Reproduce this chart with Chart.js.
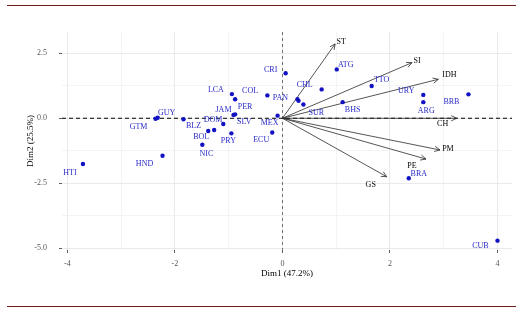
<!DOCTYPE html>
<html>
<head>
<meta charset="utf-8">
<script src="https://cdn.jsdelivr.net/npm/chart.js@4"></script>
<style>
  html, body { margin: 0; padding: 0; background: #fff; }
  #wrap { position: relative; width: 530px; height: 309px; }
  #biplot { position: absolute; left: 0; top: 0; }
  .rule { position: absolute; left: 7px; width: 509px; height: 1px; background: #6e1c1c; }
</style>
</head>
<body>
<div id="wrap">
  <canvas id="biplot" width="530" height="309"></canvas>
  <div class="rule" style="top:5px"></div>
  <div class="rule" style="top:306px"></div>
</div>
<script>
// individuals (countries) - coordinates on Dim1 / Dim2
const countries = ['HTI', 'HND', 'GTM', 'GUY', 'BLZ', 'NIC', 'BOL', 'DOM', 'SLV', 'PRY',
                   'JAM', 'PER', 'LCA', 'COL', 'PAN', 'CRI', 'MEX', 'ECU', 'CHL', 'SUR',
                   '', '', 'ATG', 'BHS', 'TTO', 'URY', 'ARG', 'BRB', 'BRA', 'CUB'];
const dim1 = [-3.71, -2.23, -2.36, -2.32, -1.84, -1.49, -1.38, -1.27, -1.10, -0.95,
              -0.91, -0.88, -0.94, -0.88, -0.28, 0.06, -0.09, -0.19, 0.73, 0.39,
              0.28, 0.30, 1.01, 1.12, 1.66, 2.62, 2.62, 3.46, 2.35, 4.00];
const dim2 = [-1.76, -1.44, -0.02, 0.02, -0.04, -1.02, -0.49, -0.45, -0.22, -0.58,
              0.13, 0.15, 0.93, 0.73, 0.88, 1.73, 0.10, -0.55, 1.11, 0.53,
              0.73, 0.67, 1.88, 0.62, 1.24, 0.90, 0.62, 0.92, -2.31, -4.71];

// variables (arrows)
const variables = ['ST', 'SI', 'IDH', 'CH', 'PM', 'PE', 'GS'];
const varDim1 = [0.98, 2.41, 2.90, 3.24, 2.93, 2.67, 1.94];
const varDim2 = [2.86, 2.14, 1.50, 0.00, -1.22, -1.57, -2.25];

const xTicks = [-4, -2, 0, 2, 4];
const yTicks = [-5, -2.5, 0, 2.5];

// where the repelled labels ended up, px from their point
const countryLabelOffsets = [[-13, 9], [-18, 8], [-17, 8], [9, -5], [10, 7], [4, 9], [-7, 6], [-1, -10], [21, -2], [-3, 8],
                             [-10, -5], [10, -7], [-16, -4], [15, -8], [13, 3], [-15, -3], [-8, 7], [-11, 7], [-17, -5], [13, 8],
                             [0, 0], [0, 0], [9, -5], [10, 8], [10, -6], [-17, -4], [3, 9], [-17, 8], [10, -4], [-17, 5]];
const varLabelOffsets = [[6, -2], [5, -2], [11, -4], [-14, 6], [8, -1], [-14, 7], [-16, 8]];

const serif = '"Liberation Serif", "DejaVu Serif", serif';
const pointBlue = '#1212c4';
const arrowGrey = '#2b2b2b';

const points = dim1.map((v, i) => ({x: v, y: dim2[i]}));

const arrowSets = variables.map((name, i) => ({
    label: name,
    data: [{x: 0, y: 0}, {x: varDim1[i], y: varDim2[i]}],
    showLine: true,
    borderColor: arrowGrey,
    borderWidth: 0.8,
    pointRadius: 0,
    order: 1
}));

const biplotExtras = {
    id: 'biplotExtras',
    beforeDatasetsDraw(chart) {
        const {ctx, chartArea: a, scales: {x, y}} = chart;
        const x0 = x.getPixelForValue(0);
        const y0 = y.getPixelForValue(0);
        ctx.save();
        ctx.strokeStyle = '#000';
        ctx.lineWidth = 1;
        ctx.setLineDash([4, 3]);
        ctx.beginPath();
        ctx.moveTo(a.left, y0);
        ctx.lineTo(a.right, y0);
        ctx.stroke();
        ctx.strokeStyle = '#555';
        ctx.lineWidth = 0.8;
        ctx.setLineDash([3, 3]);
        ctx.beginPath();
        ctx.moveTo(x0, a.top);
        ctx.lineTo(x0, a.bottom);
        ctx.stroke();
        ctx.restore();
    },
    afterDatasetsDraw(chart) {
        const ctx = chart.ctx;
        ctx.save();
        // open arrow heads
        ctx.strokeStyle = arrowGrey;
        ctx.lineWidth = 0.8;
        variables.forEach((name, i) => {
            const meta = chart.getDatasetMeta(i + 1);
            const p0 = meta.data[0], p1 = meta.data[1];
            const ang = Math.atan2(p1.y - p0.y, p1.x - p0.x);
            const len = 6;
            ctx.beginPath();
            ctx.moveTo(p1.x - len * Math.cos(ang - 0.45), p1.y - len * Math.sin(ang - 0.45));
            ctx.lineTo(p1.x, p1.y);
            ctx.lineTo(p1.x - len * Math.cos(ang + 0.45), p1.y - len * Math.sin(ang + 0.45));
            ctx.stroke();
        });
        ctx.textAlign = 'center';
        ctx.textBaseline = 'middle';
        ctx.font = '8px ' + serif;
        // variable labels
        ctx.fillStyle = '#000';
        variables.forEach((name, i) => {
            const p1 = chart.getDatasetMeta(i + 1).data[1];
            ctx.fillText(name, p1.x + varLabelOffsets[i][0], p1.y + varLabelOffsets[i][1]);
        });
        // country labels
        ctx.fillStyle = '#2a2ac8';
        const meta = chart.getDatasetMeta(0);
        countries.forEach((name, i) => {
            if (!name) return;
            const p = meta.data[i];
            ctx.fillText(name, p.x + countryLabelOffsets[i][0], p.y + countryLabelOffsets[i][1]);
        });
        ctx.restore();
    }
};

const gridColor = major => major ? '#e4e4e4' : '#f1f1f1';

new Chart(document.getElementById('biplot').getContext('2d'), {
    type: 'scatter',
    data: {
        datasets: [{
            label: 'individuals',
            data: points,
            backgroundColor: pointBlue,
            borderColor: pointBlue,
            pointRadius: 2.2,
            borderWidth: 0,
            order: 0
        }].concat(arrowSets)
    },
    options: {
        responsive: false,
        animation: false,
        layout: { padding: { left: 25, right: 18, top: 32, bottom: 30 } },
        plugins: { legend: { display: false }, tooltip: { enabled: false } },
        scales: {
            x: {
                type: 'linear',
                min: -4.1,
                max: 4.27,
                afterBuildTicks: s => { s.ticks = [-4, -3, -2, -1, 0, 1, 2, 3, 4].map(v => ({value: v})); },
                afterFit: s => { s.height = 29; },
                border: { display: false },
                grid: {
                    color: c => gridColor(xTicks.includes(c.tick.value)),
                    tickColor: c => xTicks.includes(c.tick.value) ? '#333' : 'rgba(0,0,0,0)',
                    tickLength: 3,
                    lineWidth: 0.8
                },
                ticks: {
                    callback: v => xTicks.includes(v) ? String(v) : '',
                    autoSkip: false,
                    maxRotation: 0,
                    padding: 6,
                    color: '#555',
                    font: { family: serif, size: 8 }
                },
                title: { display: true, text: 'Dim1 (47.2%)', color: '#000', padding: 0, font: { family: serif, size: 9 } }
            },
            y: {
                type: 'linear',
                min: -5.07,
                max: 3.32,
                afterBuildTicks: s => { s.ticks = [-5, -3.75, -2.5, -1.25, 0, 1.25, 2.5].map(v => ({value: v})); },
                afterFit: s => { s.width = 37; },
                border: { display: false },
                grid: {
                    color: c => gridColor(yTicks.includes(c.tick.value)),
                    tickColor: c => yTicks.includes(c.tick.value) ? '#333' : 'rgba(0,0,0,0)',
                    tickLength: 3,
                    lineWidth: 0.8
                },
                ticks: {
                    callback: v => yTicks.includes(v) ? v.toFixed(1) : '',
                    autoSkip: false,
                    padding: 12,
                    color: '#555',
                    font: { family: serif, size: 8 }
                },
                title: { display: true, text: 'Dim2 (25.5%)', color: '#000', padding: 0, font: { family: serif, size: 9 } }
            }
        }
    },
    plugins: [biplotExtras]
});
</script>
</body>
</html>
